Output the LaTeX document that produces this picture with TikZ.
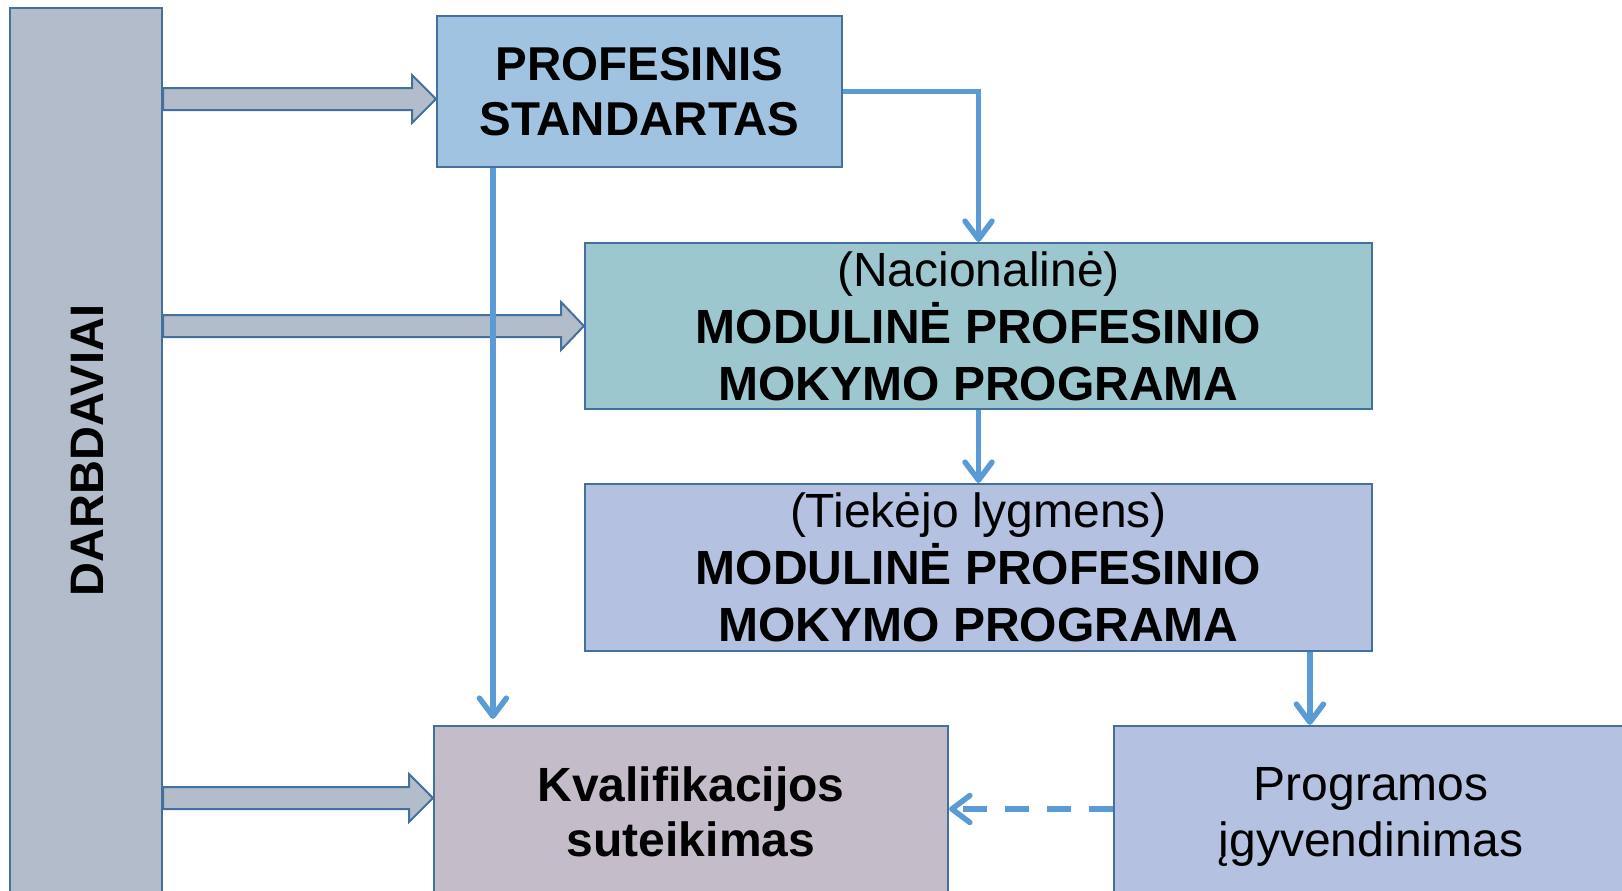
\documentclass[tikz,border=0pt]{standalone}
\usepackage{fontspec}
\setmainfont{Liberation Sans}
\usetikzlibrary{arrows.meta,calc}
\definecolor{darbfill}{HTML}{B3BCCB}
\definecolor{bordercol}{HTML}{44709D}
\definecolor{proffill}{HTML}{A0C3E2}
\definecolor{natfill}{HTML}{9DC7CF}
\definecolor{tiekfill}{HTML}{B4C1E1}
\definecolor{kvalfill}{HTML}{C4BCC8}
\definecolor{linecol}{HTML}{5B9BD5}
\tikzset{
  boxnode/.style={draw=bordercol, line width=2.2pt, rectangle, inner sep=0pt, align=center,
    font=\fontsize{48}{57}\selectfont},
  fatarrow/.style={draw=bordercol, fill=darbfill, line width=2pt, line join=miter},
  conn/.style={draw=linecol, line width=5.5pt, -{Straight Barb[length=18pt,width=27pt,round]}},
  dashconn/.style={conn, dash pattern=on 24pt off 18pt},
}
\begin{document}
\begin{tikzpicture}[x=1pt,y=-1pt]
\useasboundingbox (0,0) rectangle (1622,891);
\clip (0,0) rectangle (1622,891);
% boxes
\node[boxnode, fill=darbfill, minimum width=152pt, minimum height=889pt] (darb) at (86,452.5) {};
\node[rotate=90, font=\fontsize{47}{55}\selectfont\bfseries] (darbt) at (87.5,450.5) {DARBDAVIAI};
\node[boxnode, fill=proffill, minimum width=405pt, minimum height=151pt,
  font=\fontsize{47.5}{55}\selectfont\bfseries] (prof) at (639.5,91.5) {PROFESINIS\\STANDARTAS};
\node[boxnode, fill=natfill, minimum width=787pt, minimum height=166pt] (nat) at (978.5,326)
  {(Nacionalinė)\\\textbf{MODULINĖ PROFESINIO}\\\textbf{MOKYMO PROGRAMA}};
\node[boxnode, fill=tiekfill, minimum width=787pt, minimum height=167pt] (tiek) at (978.5,567.5)
  {(Tiekėjo lygmens)\\\textbf{MODULINĖ PROFESINIO}\\\textbf{MOKYMO PROGRAMA}};
\node[boxnode, fill=kvalfill, minimum width=514pt, minimum height=171pt,
  font=\fontsize{48}{55}\selectfont\bfseries] (kval) at (691,811.5) {Kvalifikacijos\\suteikimas};
\node[boxnode, fill=tiekfill, minimum width=514pt, minimum height=181pt,
  font=\fontsize{48}{56}\selectfont] (prog) at (1371,816.5) {Programos\\įgyvendinimas};
% fat arrows
\draw[fatarrow] (darb.east |- 0,88) -- (412,88) -- (412,75) -- (prof.west |- 0,99)
  -- (412,123) -- (412,110) -- (darb.east |- 0,110) -- cycle;
\draw[fatarrow] (darb.east |- 0,315) -- (561,315) -- (561,302) -- (nat.west |- 0,326)
  -- (561,350) -- (561,337) -- (darb.east |- 0,337) -- cycle;
\draw[fatarrow] (darb.east |- 0,787) -- (409,787) -- (409,774) -- (kval.west |- 0,798)
  -- (409,822) -- (409,809) -- (darb.east |- 0,809) -- cycle;
% connectors
\coordinate (pk) at ($(prof.south west)+(57,0)$);
\coordinate (tp) at ($(tiek.south west)+(726,0)$);
\coordinate (dk) at ([yshift=2.5pt]kval.east);
\draw[conn] (prof.east) -| (nat.north);
\draw[conn] (nat.south) -- (tiek.north);
\draw[conn, shorten >=6pt] (pk) -- (pk |- kval.north);
\draw[conn] (tp) -- (tp |- prog.north);
\draw[dashconn] (dk -| prog.west) -- (dk);
\end{tikzpicture}
\end{document}
